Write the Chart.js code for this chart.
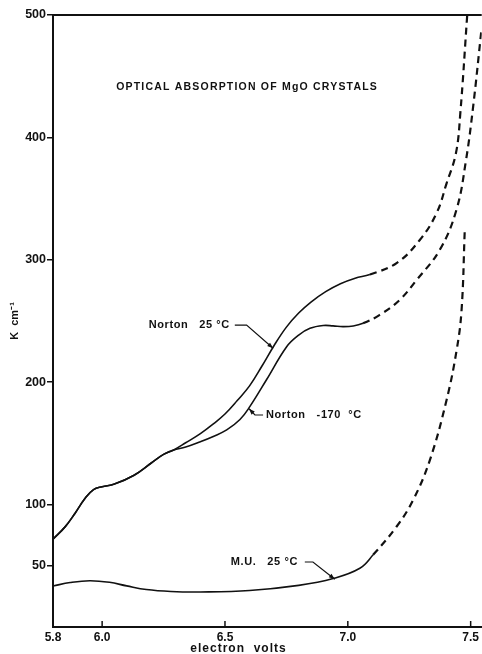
<!DOCTYPE html>
<html>
<head>
<meta charset="utf-8">
<script src="https://cdn.jsdelivr.net/npm/chart.js@4/dist/chart.umd.min.js"></script>
<style>
  html, body { margin: 0; padding: 0; background: #fff; }
  canvas { display: block; }
</style>
</head>
<body>
<canvas id="chart" width="482" height="654"></canvas>
<script>
// Axis ticks
const xTicks = [5.8, 6.0, 6.5, 7.0, 7.5];
const yTicks = [50, 100, 200, 300, 400, 500];

// Norton crystal, 25 °C (measured part, then extrapolated part from the split value on)
const norton25Ev = [5.80, 5.85, 5.89, 5.93, 5.965, 6.00, 6.05, 6.13, 6.20, 6.25, 6.29, 6.34, 6.40, 6.45, 6.50, 6.55, 6.60, 6.65, 6.70, 6.75, 6.80, 6.85, 6.91, 6.97, 7.03, 7.09, 7.20, 7.293, 7.361, 7.402, 7.44, 7.458, 7.486];
const norton25K  = [71.7, 82, 93, 105, 112.3, 114.6, 116.8, 124, 134, 141, 144.5, 150.5, 158, 165.5, 174, 185, 197, 213, 230, 245, 256.5, 265.5, 274, 280.5, 285, 288, 297.5, 316.2, 338, 362.5, 387, 420, 500];
const norton25Split = 7.09;

// Norton crystal, -170 °C (coincides with the 25 °C curve below 6.29 eV)
const norton170Ev = [5.80, 5.85, 5.89, 5.93, 5.965, 6.00, 6.05, 6.13, 6.20, 6.25, 6.29, 6.34, 6.40, 6.45, 6.507, 6.561, 6.601, 6.669, 6.751, 6.80, 6.846, 6.90, 6.94, 6.98, 7.022, 7.062, 7.13, 7.21, 7.28, 7.374, 7.442, 7.48, 7.51, 7.545];
const norton170K  = [71.7, 82, 93, 105, 112.3, 114.6, 116.8, 124, 134, 141, 144.5, 147, 151.4, 155.5, 161, 169.5, 180, 202, 229, 238.5, 244, 246.3, 246, 245.4, 245.9, 248.1, 255, 267, 283.5, 308, 340.7, 380, 425, 490];
const norton170Split = 7.062;

// M.U. crystal, 25 °C
const mu25Ev = [5.80, 5.87, 5.95, 6.03, 6.10, 6.18, 6.28, 6.40, 6.60, 6.80, 6.94, 7.049, 7.103, 7.198, 7.266, 7.334, 7.402, 7.443, 7.463, 7.476];
const mu25K  = [33.5, 36.3, 37.8, 36.5, 33.6, 30.6, 29.0, 28.6, 29.8, 34.0, 39.6, 48, 59, 81.9, 103.8, 136.4, 185.5, 226.3, 259, 324.3];
const mu25Split = 7.103;

// Curve labels: text anchor and leader path in (eV, K)
const curveLabels = [
  { text: 'Norton   25 °C',   at: [6.52, 246.7],  align: 'right',
    leader: [[6.540, 246.7], [6.588, 246.7], [6.696, 227.7]] },
  { text: 'Norton   -170  °C', at: [6.667, 173.2], align: 'left',
    leader: [[6.655, 173.2], [6.622, 173.2], [6.598, 178.3]] },
  { text: 'M.U.   25 °C',     at: [6.797, 53.1],  align: 'right',
    leader: [[6.825, 53.1], [6.858, 53.1], [6.947, 39.0]] }
];
const chartTitle = 'OPTICAL ABSORPTION OF MgO CRYSTALS';
const chartTitleAt = [6.59, 441.4];
const xTitle = 'electron  volts';
const xTitleEv = 6.555;
const yTitle = 'K  cm⁻¹';

const INK = '#111';
const FONT = '"Liberation Sans", Arial, sans-serif';

function pairs(xs, ys) { return xs.map((x, i) => ({ x, y: ys[i] })); }

function curve(xs, ys, split) {
  const dashed = ctx => ctx.p0.parsed.x >= split - 1e-9;
  return {
    data: pairs(xs, ys),
    showLine: true,
    borderColor: INK,
    borderWidth: 1.6,
    pointRadius: 0,
    tension: 0.4,
    segment: {
      borderDash: ctx => dashed(ctx) ? [7, 5] : undefined,
      borderWidth: ctx => dashed(ctx) ? 2.2 : 1.6
    }
  };
}

// Extra drawing: top frame line, inward x ticks, titles and labelled leaders
const decorations = {
  id: 'decorations',
  afterDraw(chart) {
    const { ctx, chartArea: a, scales: { x, y } } = chart;
    const px = v => x.getPixelForValue(v);
    const py = v => y.getPixelForValue(v);
    ctx.save();
    ctx.strokeStyle = INK;
    ctx.fillStyle = INK;

    // top frame
    ctx.lineWidth = 2;
    ctx.beginPath();
    ctx.moveTo(a.left - 1, a.top);
    ctx.lineTo(a.right, a.top);
    ctx.stroke();

    // x tick marks pointing into the plot
    ctx.lineWidth = 1.5;
    xTicks.forEach(v => {
      ctx.beginPath();
      ctx.moveTo(px(v), a.bottom);
      ctx.lineTo(px(v), a.bottom - 6);
      ctx.stroke();
    });

    // chart title
    ctx.font = 'bold 10.5px ' + FONT;
    ctx.letterSpacing = '1.2px';
    ctx.textAlign = 'center';
    ctx.textBaseline = 'middle';
    ctx.fillText(chartTitle, px(chartTitleAt[0]), py(chartTitleAt[1]));

    // x axis title
    ctx.font = 'bold 12px ' + FONT;
    ctx.letterSpacing = '1px';
    ctx.fillText(xTitle, px(xTitleEv), a.bottom + 22);

    // curve labels with leaders and arrowheads
    ctx.font = 'bold 11px ' + FONT;
    ctx.letterSpacing = '0.6px';
    curveLabels.forEach(l => {
      ctx.textAlign = l.align;
      ctx.fillText(l.text, px(l.at[0]), py(l.at[1]));
      const pts = l.leader.map(p => [px(p[0]), py(p[1])]);
      ctx.lineWidth = 1.2;
      ctx.beginPath();
      pts.forEach((p, i) => i ? ctx.lineTo(p[0], p[1]) : ctx.moveTo(p[0], p[1]));
      ctx.stroke();
      const [x1, y1] = pts[pts.length - 2];
      const [x2, y2] = pts[pts.length - 1];
      const ang = Math.atan2(y2 - y1, x2 - x1);
      const len = 6, half = 2.2;
      ctx.beginPath();
      ctx.moveTo(x2, y2);
      ctx.lineTo(x2 - len * Math.cos(ang) + half * Math.sin(ang), y2 - len * Math.sin(ang) - half * Math.cos(ang));
      ctx.lineTo(x2 - len * Math.cos(ang) - half * Math.sin(ang), y2 - len * Math.sin(ang) + half * Math.cos(ang));
      ctx.closePath();
      ctx.fill();
    });
    ctx.restore();
  }
};

new Chart(document.getElementById('chart'), {
  type: 'scatter',
  data: {
    datasets: [
      curve(norton25Ev, norton25K, norton25Split),
      curve(norton170Ev, norton170K, norton170Split),
      curve(mu25Ev, mu25K, mu25Split)
    ]
  },
  options: {
    responsive: false,
    animation: false,
    devicePixelRatio: 1,
    layout: { padding: { top: 15, right: 0, left: 0, bottom: 0 } },
    plugins: { legend: { display: false }, tooltip: { enabled: false }, title: { display: false } },
    scales: {
      x: {
        type: 'linear',
        min: 5.8,
        max: 7.545,
        afterBuildTicks: s => { s.ticks = xTicks.map(v => ({ value: v })); },
        afterFit: s => { s.height = 27; },
        grid: { display: false, drawTicks: false },
        border: { display: true, color: INK, width: 2 },
        ticks: {
          color: INK,
          padding: 3,
          maxRotation: 0,
          autoSkip: false,
          font: { family: FONT, size: 12, weight: 'bold' },
          callback: v => Number(v).toFixed(1)
        }
      },
      y: {
        type: 'linear',
        min: 0,
        max: 500,
        afterBuildTicks: s => { s.ticks = yTicks.map(v => ({ value: v })); },
        afterFit: s => { s.width = 53; },
        grid: { display: true, drawOnChartArea: false, drawTicks: true, tickLength: 6, color: INK, lineWidth: 1.5 },
        border: { display: true, color: INK, width: 2 },
        title: {
          display: true,
          text: yTitle,
          color: INK,
          padding: { top: 8, bottom: 0 },
          font: { family: FONT, size: 11, weight: 'bold' }
        },
        ticks: {
          color: INK,
          padding: 1,
          autoSkip: false,
          font: { family: FONT, size: 12.5, weight: 'bold' },
          callback: v => String(v)
        }
      }
    }
  },
  plugins: [decorations]
});
</script>
</body>
</html>
